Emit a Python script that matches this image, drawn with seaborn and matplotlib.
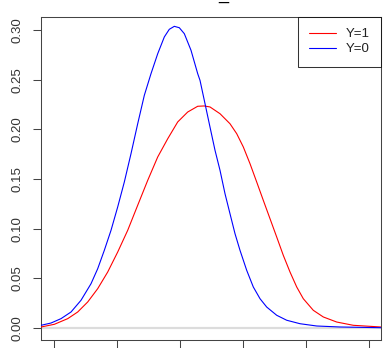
import matplotlib
matplotlib.use("Agg")
import matplotlib.pyplot as plt
import seaborn as sns
import pandas as pd

# Density curves
x_y0 = [-4.413, -4.095, -3.778, -3.460, -3.143, -2.825, -2.613, -2.403, -2.190, -1.978,
        -1.768, -1.556, -1.343, -1.133, -0.921, -0.708, -0.498, -0.340, -0.181, -0.022,
        0.137, 0.349, 0.562, 0.635, 0.794, 0.952, 1.111, 1.270, 1.429, 1.587, 1.746,
        1.905, 2.117, 2.327, 2.540, 2.752, 3.070, 3.387, 3.810, 4.340, 5.079, 6.381]
d_y0 = [0.0027, 0.0050, 0.0094, 0.0161, 0.0279, 0.0446, 0.0597, 0.0782, 0.0984, 0.1219,
        0.1470, 0.1755, 0.2057, 0.2343, 0.2561, 0.2762, 0.2931, 0.3008, 0.3038, 0.3024,
        0.2964, 0.2797, 0.2561, 0.2494, 0.2259, 0.2024, 0.1790, 0.1588, 0.1352, 0.1151,
        0.0950, 0.0782, 0.0581, 0.0413, 0.0295, 0.0211, 0.0128, 0.0078, 0.0043, 0.0020,
        0.0010, 0.0003]

x_y1 = [-4.413, -3.990, -3.565, -3.248, -2.930, -2.613, -2.295, -1.978, -1.660, -1.343,
        -1.025, -0.708, -0.390, -0.073, 0.244, 0.562, 0.771, 0.952, 1.270, 1.587, 1.800,
        2.010, 2.222, 2.435, 2.644, 2.857, 3.070, 3.279, 3.492, 3.705, 3.914, 4.232,
        4.549, 4.975, 5.502, 6.381]
d_y1 = [0.0010, 0.0037, 0.0094, 0.0161, 0.0262, 0.0396, 0.0564, 0.0765, 0.0984, 0.1236,
        0.1487, 0.1722, 0.1906, 0.2075, 0.2175, 0.2233, 0.2236, 0.2226, 0.2158, 0.2057,
        0.1957, 0.1823, 0.1655, 0.1470, 0.1286, 0.1101, 0.0916, 0.0732, 0.0564, 0.0413,
        0.0295, 0.0178, 0.0111, 0.0060, 0.0027, 0.0010]

groups = ["Y=1", "Y=0"]
colors = ["#ff0000", "#0000ff"]
y_ticks = [0.00, 0.05, 0.10, 0.15, 0.20, 0.25, 0.30]
y_tick_labels = ["0.00", "0.05", "0.10", "0.15", "0.20", "0.25", "0.30"]
x_ticks = [-4, -2, 0, 2, 4, 6]
title = "_"

df = pd.concat([
    pd.DataFrame({"x": x_y1, "density": d_y1, "group": "Y=1"}),
    pd.DataFrame({"x": x_y0, "density": d_y0, "group": "Y=0"}),
], ignore_index=True)

sns.set_style("white")
plt.rcParams["font.family"] = ["Liberation Sans", "DejaVu Sans"]

W, H = 383, 348
FS = 9.5
fig = plt.figure(figsize=(W / 100, H / 100), dpi=100)
ax = fig.add_axes([41 / W, (H - 340) / H, 340 / W, 323 / H])

ax.axhline(0, color="#dcdcdc", lw=1.6, zorder=1)
sns.lineplot(data=df, x="x", y="density", hue="group", hue_order=groups,
             palette=colors, sort=False, lw=0.8, ax=ax, zorder=3)

ax.set_xlim(-4.413, 6.381)
ax.set_ylim(-0.0121, 0.3132)
ax.set_xticks(x_ticks)
ax.set_xticklabels([""] * len(x_ticks))
ax.set_yticks(y_ticks)
ax.set_yticklabels(y_tick_labels, rotation=90, va="center", fontsize=FS, color="#333333")
ax.tick_params(axis="both", direction="out", length=5.8, width=0.75, color="#444444",
               pad=7, left=True, bottom=True)
ax.set_xlabel("")
ax.set_ylabel("")
for s in ax.spines.values():
    s.set_color("#444444")
    s.set_linewidth(0.75)

leg = ax.legend(loc="upper right", bbox_to_anchor=(1, 1), borderaxespad=0,
                frameon=True, fancybox=False, fontsize=FS, handlelength=2.05,
                handletextpad=0.75, borderpad=0.85, labelspacing=0.2)
leg.get_frame().set_edgecolor("#000000")
leg.get_frame().set_linewidth(0.75)
for line in leg.get_lines():
    line.set_linewidth(0.8)
for t in leg.get_texts():
    t.set_color("#222222")

fig.text(223.5 / W, 1 + 1.5 / H, title, ha="center", va="baseline", fontsize=13,
         color="black")

fig.savefig("out.png", dpi=100)
